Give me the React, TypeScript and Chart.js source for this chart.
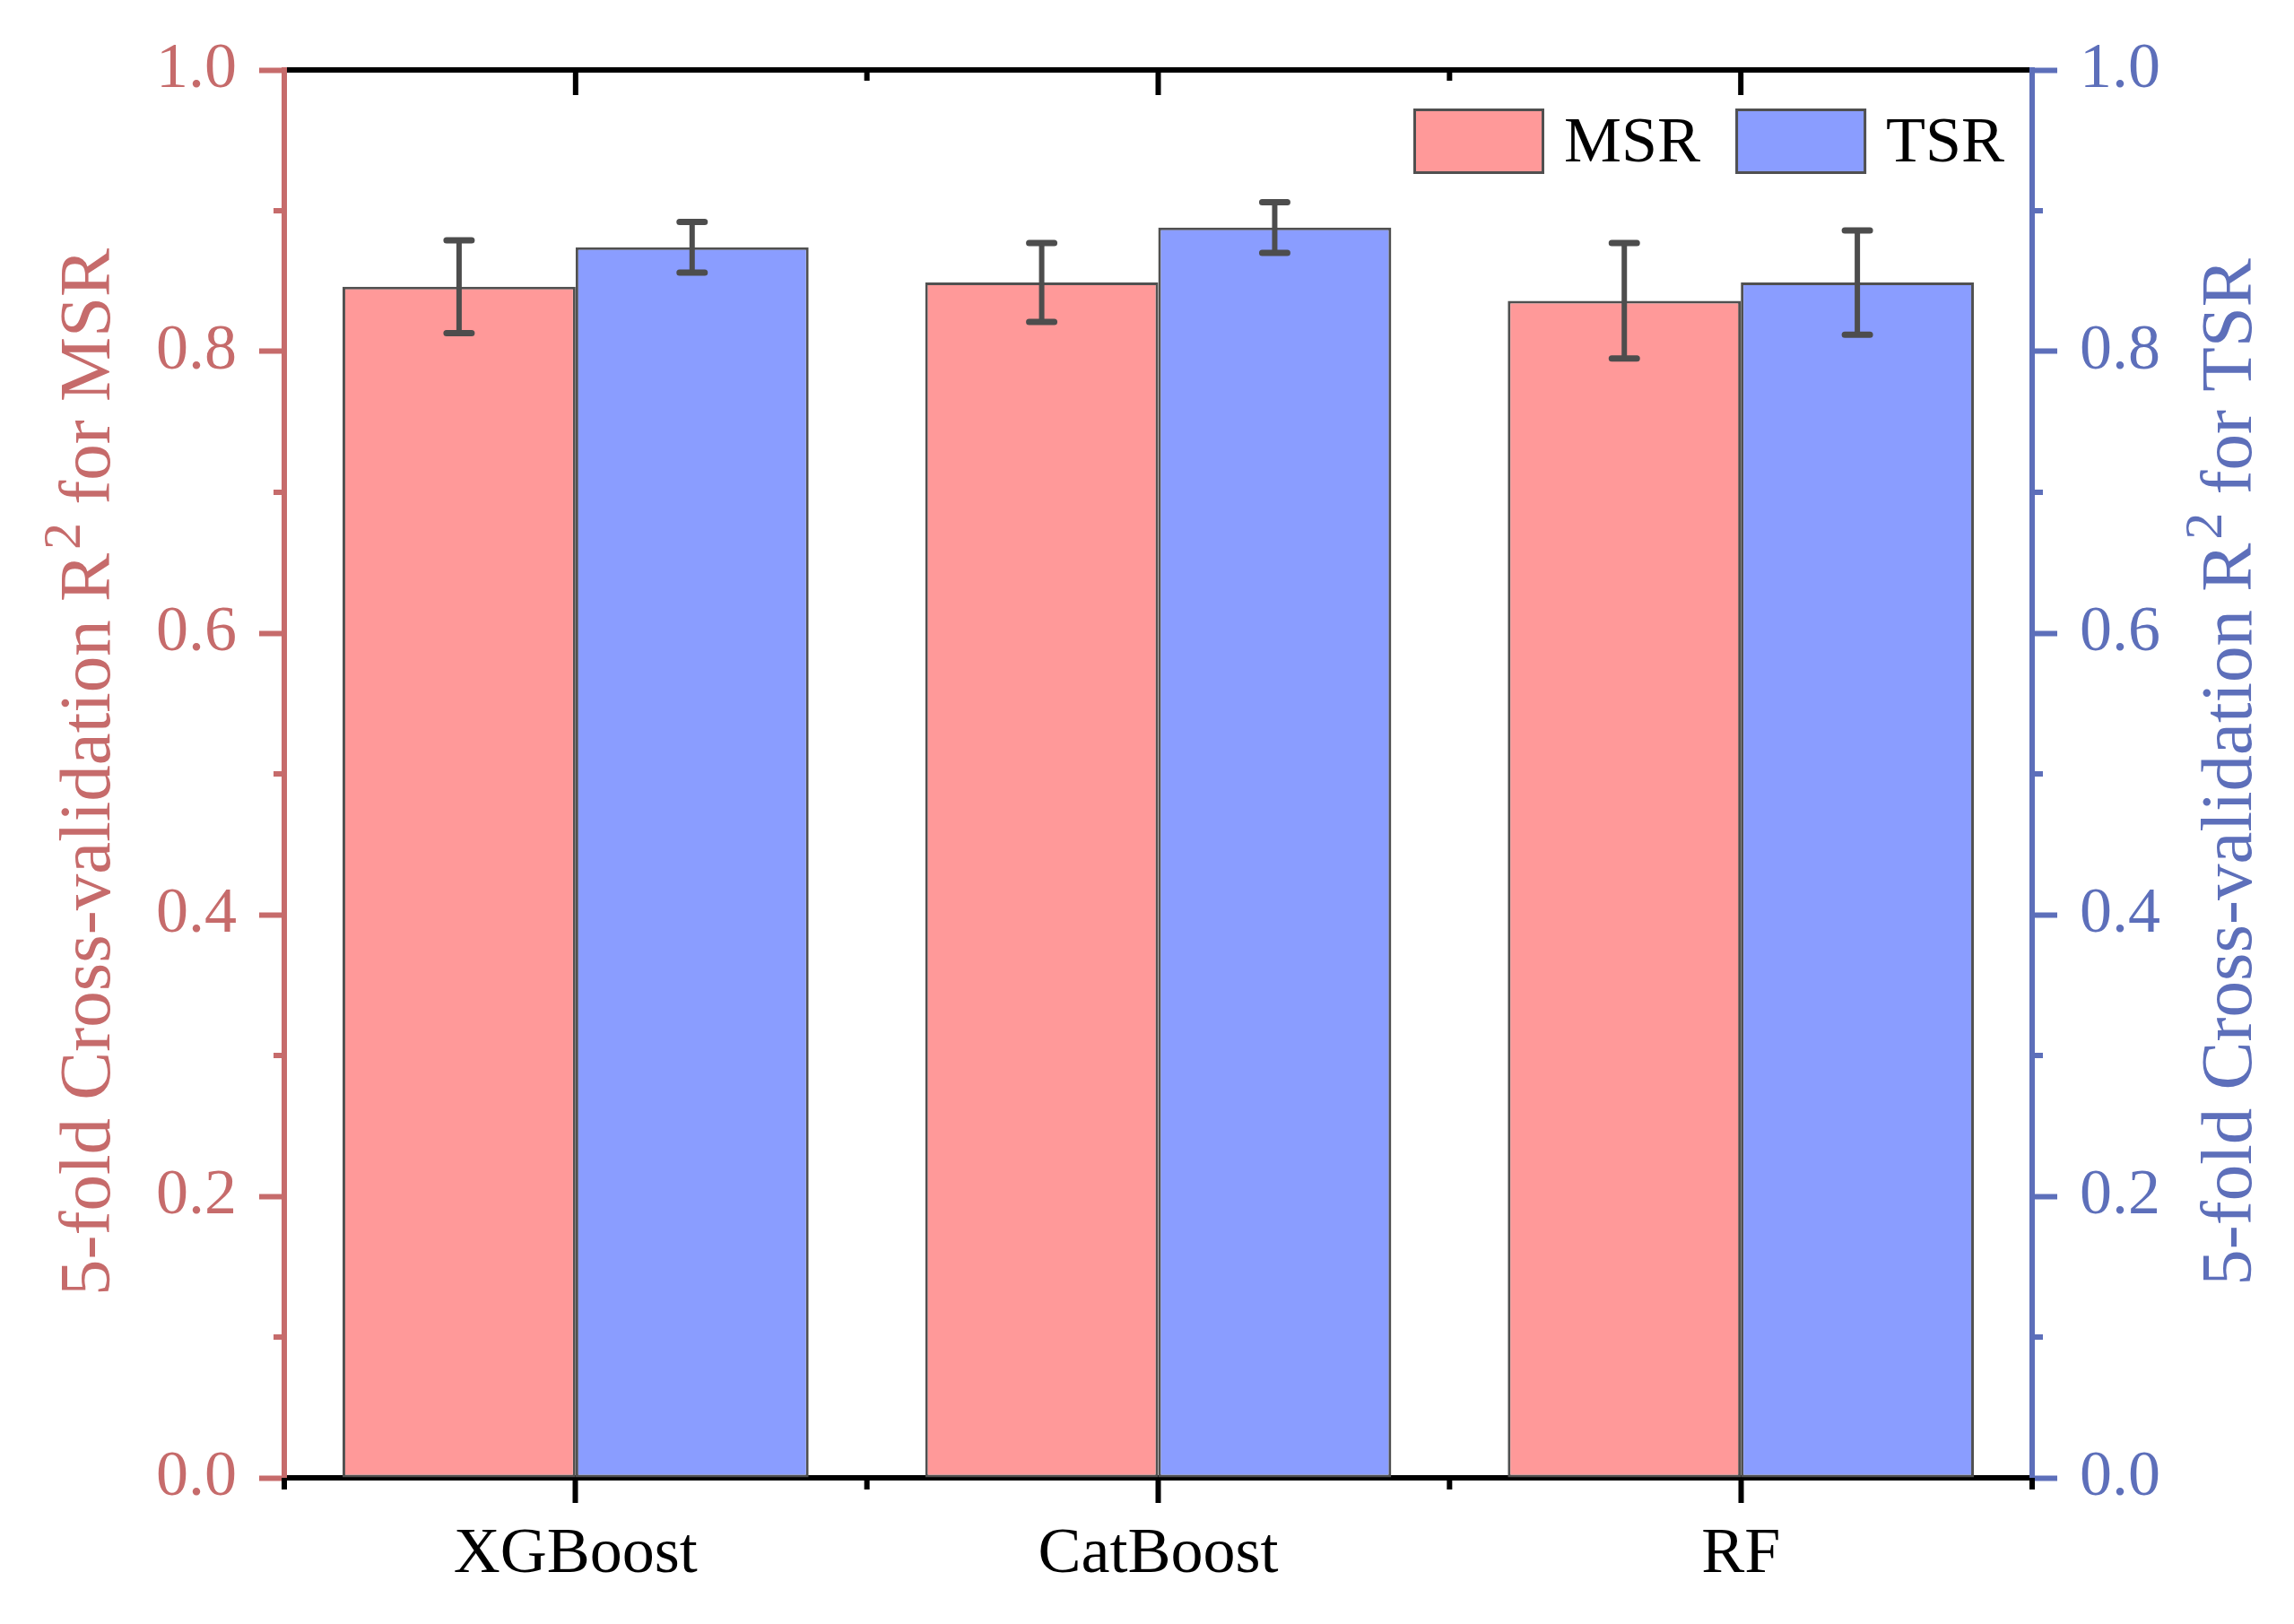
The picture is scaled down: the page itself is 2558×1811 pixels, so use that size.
import React, { useEffect, useRef } from "react";
import { Chart, registerables } from "chart.js";

Chart.register(...registerables);

// ---------- data ----------
const categories = ["XGBoost", "CatBoost", "RF"];
const seriesNames = ["MSR", "TSR"];
const msrValues = [0.846, 0.849, 0.836];
const msrErrors = [0.033, 0.028, 0.041];
const tsrValues = [0.874, 0.888, 0.849];
const tsrErrors = [0.018, 0.018, 0.037];
const yMajorTicks = [0, 0.2, 0.4, 0.6, 0.8, 1.0];
const yMinorTicks = [0.1, 0.3, 0.5, 0.7, 0.9];
const leftAxisTitle = "5-fold Cross-validation R\u00B2 for MSR";
const rightAxisTitle = "5-fold Cross-validation R\u00B2 for TSR";

// ---------- style ----------
const W = 2558;
const H = 1811;
const FONT = "'Liberation Serif', 'Times New Roman', serif";
const LEFT_COLOR = "#C66B6B";
const RIGHT_COLOR = "#5D6FBA";
const MSR_FILL = "#FF9999";
const TSR_FILL = "#8A9DFF";
const EDGE = "#505050";
const ERR_COLOR = "#4D4D4D";
const errorsByDataset = [msrErrors, tsrErrors];
const TITLE_SIZE = 81;
const SUP_SIZE = 60;

// draws a title rotated -90deg, with the "²" rendered as a real superscript "2"
function drawRotatedTitle(ctx: CanvasRenderingContext2D, text: string, baselineX: number, centerY: number, color: string) {
  const idx = text.indexOf("\u00B2");
  const pre = idx >= 0 ? text.slice(0, idx) : text;
  const sup = idx >= 0 ? "2" : "";
  const post = idx >= 0 ? text.slice(idx + 1) : "";
  ctx.save();
  ctx.translate(baselineX, centerY);
  ctx.rotate(-Math.PI / 2);
  ctx.fillStyle = color;
  ctx.textAlign = "left";
  ctx.textBaseline = "alphabetic";
  const mainFont = `${TITLE_SIZE}px ${FONT}`;
  const supFont = `${SUP_SIZE}px ${FONT}`;
  ctx.font = mainFont;
  const w1 = ctx.measureText(pre).width;
  const w2 = ctx.measureText(post).width;
  ctx.font = supFont;
  const ws = sup ? ctx.measureText(sup).width : 0;
  const gap = sup ? 4 : 0;
  const total = w1 + gap + ws + w2;
  let x = -total / 2;
  ctx.font = mainFont;
  ctx.fillText(pre, x, 0);
  x += w1 + gap;
  if (sup) {
    ctx.font = supFont;
    ctx.fillText(sup, x, -33);
    x += ws;
  }
  ctx.font = mainFont;
  ctx.fillText(post, x, 0);
  ctx.restore();
}

const decorPlugin = {
  id: "decor",
  afterDatasetsDraw(chart: any) {
    const ctx = chart.ctx;
    const y = chart.scales.y;
    ctx.save();
    ctx.strokeStyle = ERR_COLOR;
    chart.data.datasets.forEach((ds: any, d: number) => {
      const meta = chart.getDatasetMeta(d);
      const errs = errorsByDataset[d];
      meta.data.forEach((bar: any, i: number) => {
        const v = ds.data[i];
        const e = errs[i];
        const yt = y.getPixelForValue(v + e);
        const yb = y.getPixelForValue(v - e);
        ctx.lineWidth = 6;
        ctx.lineCap = "butt";
        ctx.beginPath();
        ctx.moveTo(bar.x, yt);
        ctx.lineTo(bar.x, yb);
        ctx.stroke();
        ctx.lineWidth = 7;
        ctx.lineCap = "round";
        ctx.beginPath();
        ctx.moveTo(bar.x - 14, yt);
        ctx.lineTo(bar.x + 14, yt);
        ctx.moveTo(bar.x - 14, yb);
        ctx.lineTo(bar.x + 14, yb);
        ctx.stroke();
      });
    });
    ctx.restore();
  },
  afterDraw(chart: any) {
    const ctx = chart.ctx;
    const { left, right, top, bottom } = chart.chartArea;
    const x = chart.scales.x;
    const y = chart.scales.y;
    const y1 = chart.scales.y1;
    ctx.save();
    ctx.lineCap = "butt";

    // top frame line
    ctx.strokeStyle = "#000";
    ctx.lineWidth = 6;
    ctx.beginPath();
    ctx.moveTo(left + 3, top);
    ctx.lineTo(right - 3, top);
    ctx.stroke();

    // top inward ticks: major at centres, minor at boundaries
    categories.forEach((_, i) => {
      const px = x.getPixelForValue(i);
      ctx.beginPath();
      ctx.moveTo(px, top);
      ctx.lineTo(px, top + 28);
      ctx.stroke();
    });
    for (let k = 1; k < categories.length; k++) {
      const px = x.getPixelForValue(k - 0.5);
      ctx.beginPath();
      ctx.moveTo(px, top);
      ctx.lineTo(px, top + 12);
      ctx.stroke();
    }
    // bottom outward minor ticks at boundaries
    for (let k = 0; k <= categories.length; k++) {
      const px = x.getPixelForValue(k - 0.5);
      ctx.beginPath();
      ctx.moveTo(px, bottom);
      ctx.lineTo(px, bottom + 13);
      ctx.stroke();
    }

    // y minor ticks
    yMinorTicks.forEach((v) => {
      const py = y.getPixelForValue(v);
      ctx.strokeStyle = LEFT_COLOR;
      ctx.beginPath();
      ctx.moveTo(left, py);
      ctx.lineTo(left - 12, py);
      ctx.stroke();
      const py1 = y1.getPixelForValue(v);
      ctx.strokeStyle = RIGHT_COLOR;
      ctx.beginPath();
      ctx.moveTo(right, py1);
      ctx.lineTo(right + 12, py1);
      ctx.stroke();
    });

    // axis titles (both read bottom-to-top)
    const cy = (top + bottom) / 2 - 2;
    drawRotatedTitle(ctx, leftAxisTitle, 122, cy, LEFT_COLOR);
    drawRotatedTitle(ctx, rightAxisTitle, 2510, cy, RIGHT_COLOR);

    // legend
    ctx.font = `72px ${FONT}`;
    ctx.textBaseline = "middle";
    ctx.textAlign = "left";
    let lx = right - 690;
    const ly = top + 43;
    const bw = 146;
    const bh = 73;
    chart.data.datasets.forEach((ds: any) => {
      ctx.fillStyle = ds.backgroundColor;
      ctx.fillRect(lx, ly, bw, bh);
      ctx.strokeStyle = EDGE;
      ctx.lineWidth = 3;
      ctx.strokeRect(lx + 1.5, ly + 1.5, bw - 3, bh - 3);
      ctx.fillStyle = "#000";
      const tx = lx + bw + 22;
      ctx.fillText(ds.label, tx, ly + bh / 2 + 4);
      lx = tx + ctx.measureText(ds.label).width + 39;
    });

    ctx.restore();
  },
};

export default function App() {
  const ref = useRef<HTMLCanvasElement | null>(null);

  useEffect(() => {
    if (!ref.current) return;
    const tickFont = { family: FONT, size: 72 };
    const yAxisBase = (color: string, position: "left" | "right", width: number) => ({
      type: "linear" as const,
      position,
      min: 0,
      max: 1,
      afterBuildTicks: (scale: any) => {
        scale.ticks = yMajorTicks.map((v) => ({ value: v }));
      },
      afterFit: (scale: any) => {
        scale.width = width;
      },
      ticks: {
        font: tickFont,
        color,
        padding: 25,
        callback: (v: any) => Number(v).toFixed(1),
      },
      grid: {
        display: true,
        drawOnChartArea: false,
        drawTicks: true,
        tickLength: 28,
        tickWidth: 6,
        tickColor: color,
        color,
      },
      border: { display: true, color, width: 6 },
      title: { display: false },
    });

    const chart = new Chart(ref.current, {
      type: "bar",
      data: {
        labels: categories,
        datasets: [
          {
            label: seriesNames[0],
            data: msrValues,
            backgroundColor: MSR_FILL,
            borderColor: EDGE,
            borderWidth: 3,
            borderSkipped: false,
            categoryPercentage: 0.8,
            barPercentage: 1.0,
            yAxisID: "y",
          },
          {
            label: seriesNames[1],
            data: tsrValues,
            backgroundColor: TSR_FILL,
            borderColor: EDGE,
            borderWidth: 3,
            borderSkipped: false,
            categoryPercentage: 0.8,
            barPercentage: 1.0,
            yAxisID: "y1",
          },
        ],
      },
      options: {
        responsive: false,
        animation: false,
        devicePixelRatio: 1,
        layout: { padding: { left: 0, right: 0, top: 78, bottom: 0 } },
        plugins: {
          legend: { display: false },
          tooltip: { enabled: false },
          title: { display: false },
        },
        scales: {
          x: {
            type: "category",
            offset: true,
            afterFit: (scale: any) => {
              scale.height = 163;
            },
            ticks: { font: tickFont, color: "#000", padding: 15, maxRotation: 0 },
            grid: {
              display: true,
              drawOnChartArea: false,
              offset: false,
              drawTicks: true,
              tickLength: 28,
              tickWidth: 6,
              tickColor: "#000",
              color: "#000",
            },
            border: { display: true, color: "#000", width: 6 },
          },
          y: yAxisBase(LEFT_COLOR, "left", 317),
          y1: yAxisBase(RIGHT_COLOR, "right", 292),
        },
      } as any,
      plugins: [decorPlugin],
    });
    return () => chart.destroy();
  }, []);

  return (
    <div style={{ position: "fixed", left: 0, top: 0, width: W, height: H, background: "#fff" }}>
      <canvas ref={ref} width={W} height={H} style={{ display: "block", width: W, height: H }} />
    </div>
  );
}
